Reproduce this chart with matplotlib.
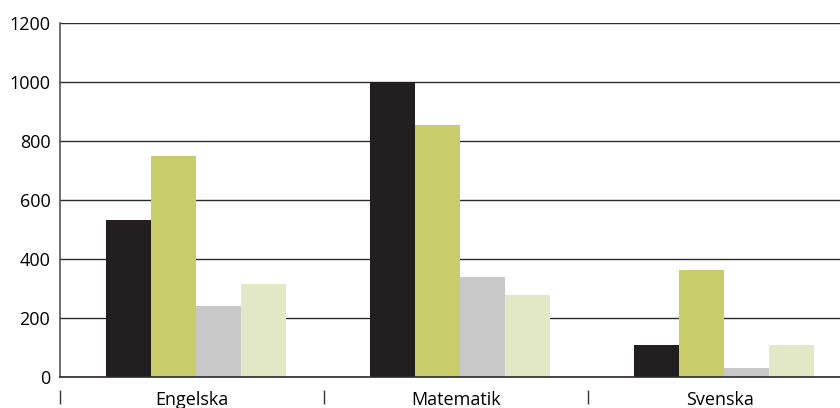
import numpy as np
import matplotlib.pyplot as plt

plt.rcParams.update({"font.family": ["Open Sans", "DejaVu Sans"], "font.size": 13})

categories = ["Engelska", "Matematik", "Svenska"]
series_1 = [530, 1000, 107]
series_2 = [748, 852, 362]
series_3 = [240, 338, 30]
series_4 = [315, 278, 107]
yticks = [0, 200, 400, 600, 800, 1000, 1200]

colors = ["#231f20", "#c6cd6a", "#c8c8c8", "#e3e8c4"]

fig = plt.figure(figsize=(8.4, 4.08), dpi=100)
ax = fig.add_axes([60 / 840, 31.3 / 408, 780 / 840, 354 / 408])

x = np.arange(len(categories)) + 0.5
w = 0.17
for k, vals in enumerate([series_1, series_2, series_3, series_4]):
    ax.bar(x + (k - 1.5) * w + 0.015, vals, width=w, color=colors[k], zorder=3)

ax.set_xlim(0, 780 / 264)
ax.set_ylim(0, 1200)
ax.set_yticks(yticks)
ax.yaxis.grid(True, color="#2b2b2b", lw=1.0, zorder=1)
ax.tick_params(axis="y", length=0, pad=7, labelsize=13)

ax.set_xticks(x)
ax.set_xticklabels(categories)
ax.tick_params(axis="x", length=0, pad=10, labelsize=13)

for s in ["top", "right"]:
    ax.spines[s].set_visible(False)
ax.spines["left"].set_color("#555555")
ax.spines["left"].set_linewidth(1.2)
ax.spines["bottom"].set_color("#2b2b2b")
ax.spines["bottom"].set_linewidth(1.2)
ax.spines["bottom"].set_zorder(4)

# category separator ticks below the axis
sec = ax.secondary_xaxis(-0.038)
sec.set_xticks([0, 1, 2])
sec.set_xticklabels([])
sec.spines["bottom"].set_visible(False)
sec.tick_params(axis="x", direction="out", length=10, width=1, color="#333333")

fig.savefig("out.png", dpi=100)
